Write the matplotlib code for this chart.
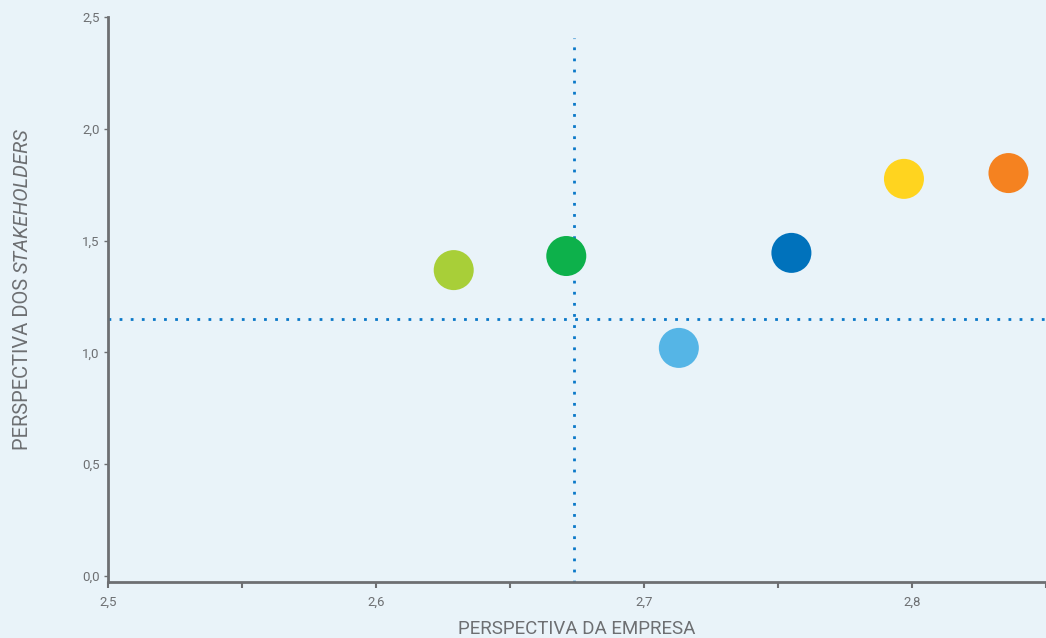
import numpy as np
import matplotlib.pyplot as plt
from matplotlib.ticker import FuncFormatter, MultipleLocator

# dados
empresa = [2.629, 2.671, 2.713, 2.755, 2.797, 2.836]
stakeholders = [1.368, 1.431, 1.020, 1.445, 1.776, 1.802]
cores = ['#a8cf38', '#0db14b', '#55b5e6', '#0072bc', '#ffd41f', '#f58220']
media_empresa = 2.674
media_stakeholders = 1.149
topo_vertical = 2.406

plt.rcParams['font.family'] = ['Roboto', 'DejaVu Sans']

BG = '#e9f3f9'
GRAY = '#6d6f72'

fig = plt.figure(figsize=(10.46, 6.38), dpi=100, facecolor=BG)
ax = fig.add_axes([108 / 1046, 56 / 638, 1 - 108 / 1046, (582 - 17) / 638])
ax.set_facecolor(BG)

# linhas de média
ax.plot([media_empresa, media_empresa], [-0.03, topo_vertical], color='#0a78c8',
        linestyle=(0, (1, 3)), linewidth=2, zorder=1)
ax.plot([2.5, 2.85], [media_stakeholders, media_stakeholders], color='#0a78c8',
        linestyle=(0, (1, 3)), linewidth=2, zorder=1)

ax.scatter(empresa, stakeholders, s=830, c=cores, linewidths=0, zorder=3)

ax.set_xlim(2.5, 2.85)
ax.set_ylim(-0.027, 2.5)

ax.xaxis.set_major_locator(MultipleLocator(0.1))
ax.xaxis.set_minor_locator(MultipleLocator(0.05))
ax.yaxis.set_major_locator(MultipleLocator(0.5))
fmt = FuncFormatter(lambda v, p: f'{v:.1f}'.replace('.', ','))
ax.xaxis.set_major_formatter(fmt)
ax.yaxis.set_major_formatter(fmt)

for s in ['top', 'right']:
    ax.spines[s].set_visible(False)
for s in ['left', 'bottom']:
    ax.spines[s].set_color(GRAY)
    ax.spines[s].set_linewidth(2)

ax.tick_params(axis='x', which='both', length=4, width=1.5, color=GRAY,
               labelsize=9.5, labelcolor=GRAY, pad=6)
ax.tick_params(axis='y', length=3, width=1, color=GRAY, labelsize=9.5,
               labelcolor=GRAY, pad=3, direction='out')

ax.set_xlabel('PERSPECTIVA DA EMPRESA', fontsize=13.5, color=GRAY, labelpad=8)

# rótulo do eixo y em duas partes (normal + itálico)
t1 = fig.text(22 / 1046, (638 - 450) / 638, 'PERSPECTIVA DOS ', rotation=90,
              rotation_mode='anchor', ha='left', va='center', fontsize=14.5, color=GRAY)
fig.canvas.draw()
bb = t1.get_window_extent()
fig.text(22 / 1046, bb.y1 / fig.bbox.height, 'STAKEHOLDERS', rotation=90,
         rotation_mode='anchor', ha='left', va='center', fontsize=14.5,
         color=GRAY, style='italic')

fig.savefig('out.png', dpi=100, facecolor=BG)
